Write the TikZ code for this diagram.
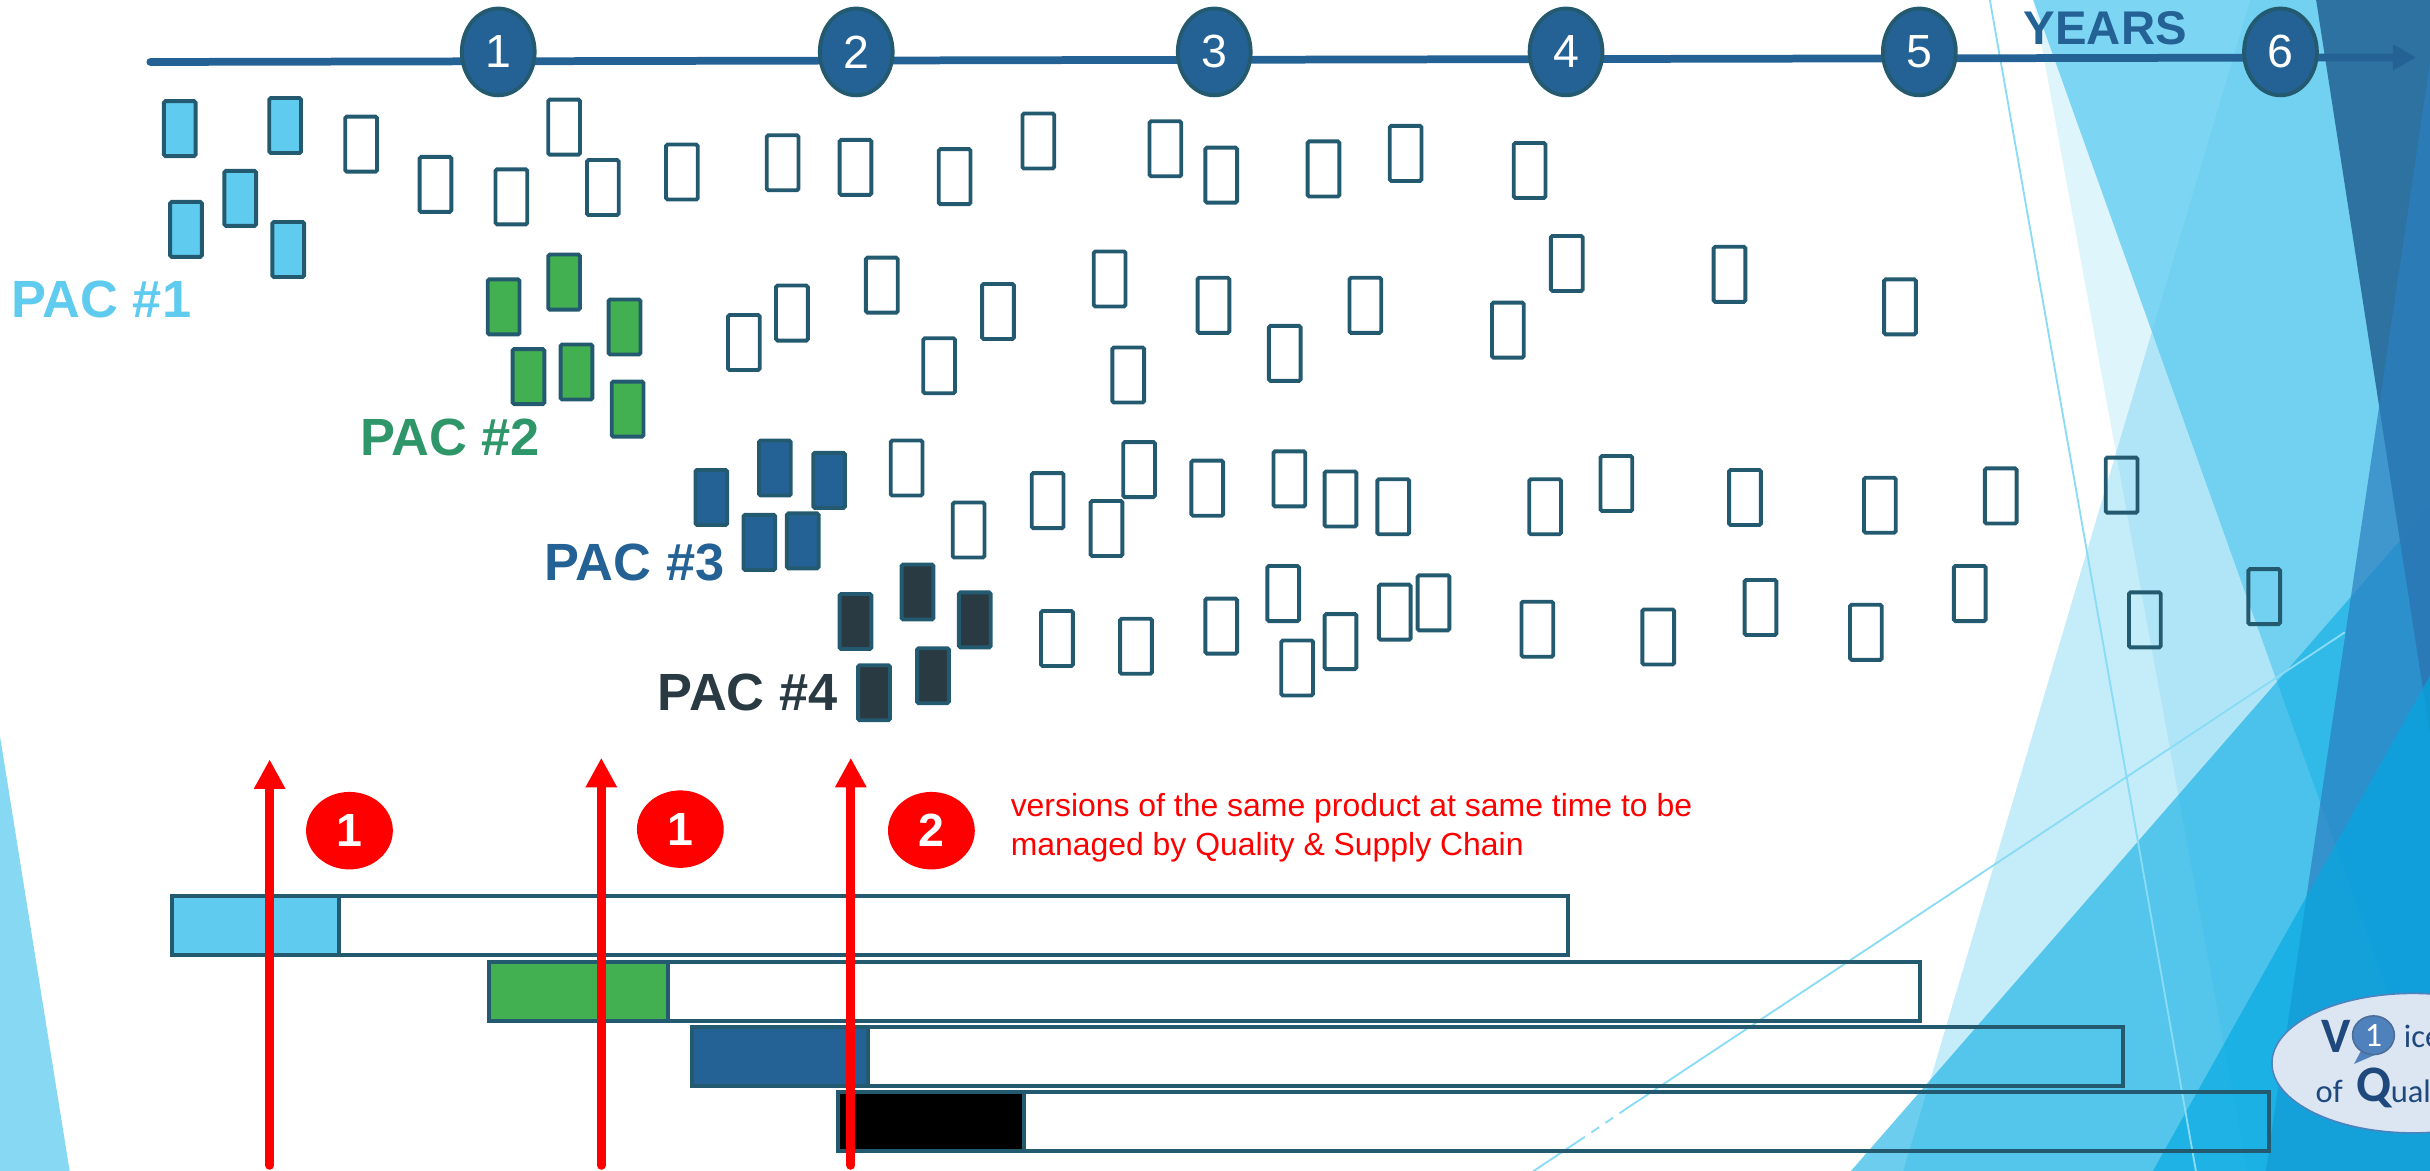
\documentclass[tikz,border=0pt]{standalone}
\usepackage{fontspec}
\setmainfont{Liberation Sans}
\newfontfamily\logofont{Carlito}
\usetikzlibrary{shapes.geometric,arrows.meta}
\definecolor{navy}{HTML}{246295}
\definecolor{edgeteal}{HTML}{245A70}
\definecolor{sky}{HTML}{5FCBEF}
\definecolor{leaf}{HTML}{42AF50}
\definecolor{ink}{HTML}{2A3A42}
\definecolor{pacgreen}{HTML}{2E9668}
\definecolor{facetA}{HTML}{5FCBEF}
\definecolor{facetB}{HTML}{03A9E2}
\definecolor{facetC}{HTML}{2A7FC0}
\definecolor{thinline}{HTML}{8ADBF5}
\definecolor{logofill}{HTML}{DCE6F2}
\definecolor{logoink}{HTML}{1F497D}
\definecolor{bubble}{HTML}{4F81BD}
\tikzset{
  pacbox/.style={draw=edgeteal,line width=2.5pt,rounded corners=1pt,minimum width=20.5pt,minimum height=35.5pt,inner sep=0pt},
  barbox/.style={draw=edgeteal,line width=2.6pt,minimum height=38pt,inner sep=0pt,anchor=north west},
  yearmark/.style={ellipse,draw=edgeteal,fill=navy,line width=2.5pt,minimum width=47pt,minimum height=56pt,inner sep=0pt,text=white,font=\fontsize{30}{36}\selectfont},
  redmark/.style={ellipse,fill=red,minimum width=56pt,minimum height=50pt,inner sep=0pt,text=white,font=\bfseries\fontsize{30}{36}\selectfont},
  paclabel/.style={inner sep=0pt,font=\bfseries\fontsize{33.8}{40}\selectfont},
  redarrow/.style={draw=red,line width=5.6pt,line cap=round,-{Triangle[width=19pt,length=19pt]}},
  thin facet/.style={draw=thinline,line width=1.2pt},
}
\begin{document}
\begin{tikzpicture}[x=1pt,y=-1pt]
\useasboundingbox (0,0) rectangle (1568,755.6);
\begin{scope}
\clip (0,0) rectangle (1568,755.6);
% background facets
\fill[facetA,opacity=.2] (1312,0) -- (1450,756) -- (1568,756) -- (1568,0) -- cycle;
\fill[facetA,opacity=.77] (1312,0) -- (1568,716) -- (1568,0) -- cycle;
\fill[facetA,opacity=.37] (1452,0) -- (1228,756) -- (1568,756) -- (1568,0) -- cycle;
\fill[facetB,opacity=.58] (1194,756) -- (1568,326.5) -- (1568,756) -- cycle;
\fill[navy,opacity=.85] (1494.5,0) -- (1568,474) -- (1568,0) -- cycle;
\fill[facetC,opacity=.7] (1574,0) -- (1462,756) -- (1568,756) -- (1568,0) -- cycle;
\fill[facetB,opacity=.65] (1389,756) -- (1568,436) -- (1568,756) -- cycle;
\fill[facetA!75] (0,475) -- (45,756) -- (0,756) -- cycle;
\draw[thin facet] (1284,0) -- (1417,756);
\draw[thin facet] (1513,408) -- (1050,715);
\draw[thin facet,dash pattern=on 6pt off 5pt] (1050,715) -- (1022,734);
\draw[thin facet] (1022,734) -- (989,756);

% logo
\node[ellipse,draw=bubble,fill=logofill,line width=1pt,minimum width=182pt,minimum height=90pt,inner sep=0pt] (logo) at (1557,686) {};
\node[inner sep=0pt,text=logoink,font=\logofont\bfseries\fontsize{32}{36}\selectfont] (logoV) at (1507.5,669) {V};
\fill[bubble] (1524,677) -- (1519,686.5) -- (1534,680) -- cycle;
\node[ellipse,draw=logoink!80,fill=bubble,line width=1pt,minimum width=27pt,minimum height=25pt,inner sep=0pt,text=white,font=\logofont\fontsize{22}{24}\selectfont] (logoOne) at (1531.5,668) {1};
\node[anchor=west,inner sep=0pt,text=logoink,font=\logofont\fontsize{21}{24}\selectfont] (logoIce) at (1551,669) {ice};
\node[anchor=west,inner sep=0pt,text=logoink,font=\logofont\fontsize{21}{24}\selectfont] (logoOf) at (1494,704) {of};
\node[anchor=west,inner sep=0pt,text=logoink,font=\logofont\bfseries\fontsize{33}{36}\selectfont] (logoQ) at (1520.5,702) {Q};
\node[anchor=west,inner sep=0pt,text=logoink,font=\logofont\fontsize{21}{24}\selectfont] (logoUal) at (1542.5,704) {ual};
\end{scope}

% time axis
\coordinate (axisStart) at (97,40);
\coordinate (axisEnd) at (1559,37);
\draw[navy,line width=5pt,line cap=round,-{Triangle[width=16pt,length=15pt]}] (axisStart) -- (axisEnd);
\node[yearmark] (y1) at (321.5,33.5) {1};
\node[yearmark] (y2) at (552.5,33.5) {2};
\node[yearmark] (y3) at (783.5,33.5) {3};
\node[yearmark] (y4) at (1010.5,33.5) {4};
\node[yearmark] (y5) at (1238.5,33.5) {5};
\node[yearmark] (y6) at (1471.5,33.5) {6};
\node[inner sep=0pt,text=navy,font=\bfseries\fontsize{30.5}{36}\selectfont] (years) at (1358.5,18) {YEARS};

% PAC boxes
\foreach \x/\y [count=\i] in {116/83,184/81,155/128,120/148,186/161}
  \node[pacbox,fill=sky] (pa\i) at (\x,\y) {};
\foreach \x/\y [count=\i] in {233/93,281/119,330/127,364/82,389/121,440/111,505/105,552/108,616/114,670/91,752/96,788/113,854/109,907/99,987/110}
  \node[pacbox] (ea\i) at (\x,\y) {};
\foreach \x/\y [count=\i] in {325/198,364/182,403/211,341/243,372/240,405/264}
  \node[pacbox,fill=leaf] (pb\i) at (\x,\y) {};
\foreach \x/\y [count=\i] in {480/221,511/202,569/184,606/236,644/201,716/180,728/242,783/197,829/228,881/197,973/213,1011/170,1116/177,1226/198}
  \node[pacbox] (eb\i) at (\x,\y) {};
\foreach \x/\y [count=\i] in {459/321,500/302,535/310,490/350,518/349}
  \node[pacbox,fill=navy] (pc\i) at (\x,\y) {};
\foreach \x/\y [count=\i] in {585/302,625/342,676/323,714/341,735/303,779/315,832/309,865/322,899/327,997/327,1043/312,1126/321,1213/326,1291/320,1369/313}
  \node[pacbox] (ec\i) at (\x,\y) {};
\foreach \x/\y [count=\i] in {552/401,592/382,629/400,602/436,564/447}
  \node[pacbox,fill=ink] (pd\i) at (\x,\y) {};
\foreach \x/\y [count=\i] in {682/412,733/417,788/404,828/383,837/431,865/414,900/395,925/389,992/406,1070/411,1136/392,1204/408,1271/383,1384/400,1461/385}
  \node[pacbox] (ed\i) at (\x,\y) {};

% PAC labels
\node[paclabel,text=sky] (pac1) at (65.5,193) {PAC \#1};
\node[paclabel,text=pacgreen] (pac2) at (290.5,282) {PAC \#2};
\node[paclabel,text=navy] (pac3) at (409.5,363) {PAC \#3};
\node[paclabel,text=ink] (pac4) at (482.5,447) {PAC \#4};

% timeline bars
\node[barbox,minimum width=901pt] (bar1) at (109.5,577) {};
\node[barbox,fill=sky,minimum width=108pt] (fill1) at (109.5,577) {};
\node[barbox,minimum width=923pt] (bar2) at (314.5,619.5) {};
\node[barbox,fill=leaf,minimum width=115pt] (fill2) at (314.5,619.5) {};
\node[barbox,minimum width=923pt] (bar3) at (445.5,661.5) {};
\node[barbox,fill=navy,minimum width=113pt] (fill3) at (445.5,661.5) {};
\node[barbox,minimum width=923pt] (bar4) at (539.5,703.5) {};
\node[barbox,fill=black,minimum width=120pt] (fill4) at (539.5,703.5) {};

% red arrows
\coordinate (ra1) at (174,752);
\coordinate (rb1) at (174,490);
\coordinate (ra2) at (388,752);
\coordinate (rb2) at (388,489);
\coordinate (ra3) at (549,752);
\coordinate (rb3) at (549,489);
\draw[redarrow] (ra1) -- (rb1);
\draw[redarrow] (ra2) -- (rb2);
\draw[redarrow] (ra3) -- (rb3);

\node[redmark] (c1) at (225.5,536) {1};
\node[redmark] (c2) at (439,535) {1};
\node[redmark] (c3) at (601,536) {2};
\node[anchor=west,inner sep=0pt,text=red,align=left,font=\fontsize{20.6}{25.3}\selectfont] (note) at (652,534) {versions of the same product at same time to be\\managed by Quality \& Supply Chain};
\end{tikzpicture}
\end{document}
